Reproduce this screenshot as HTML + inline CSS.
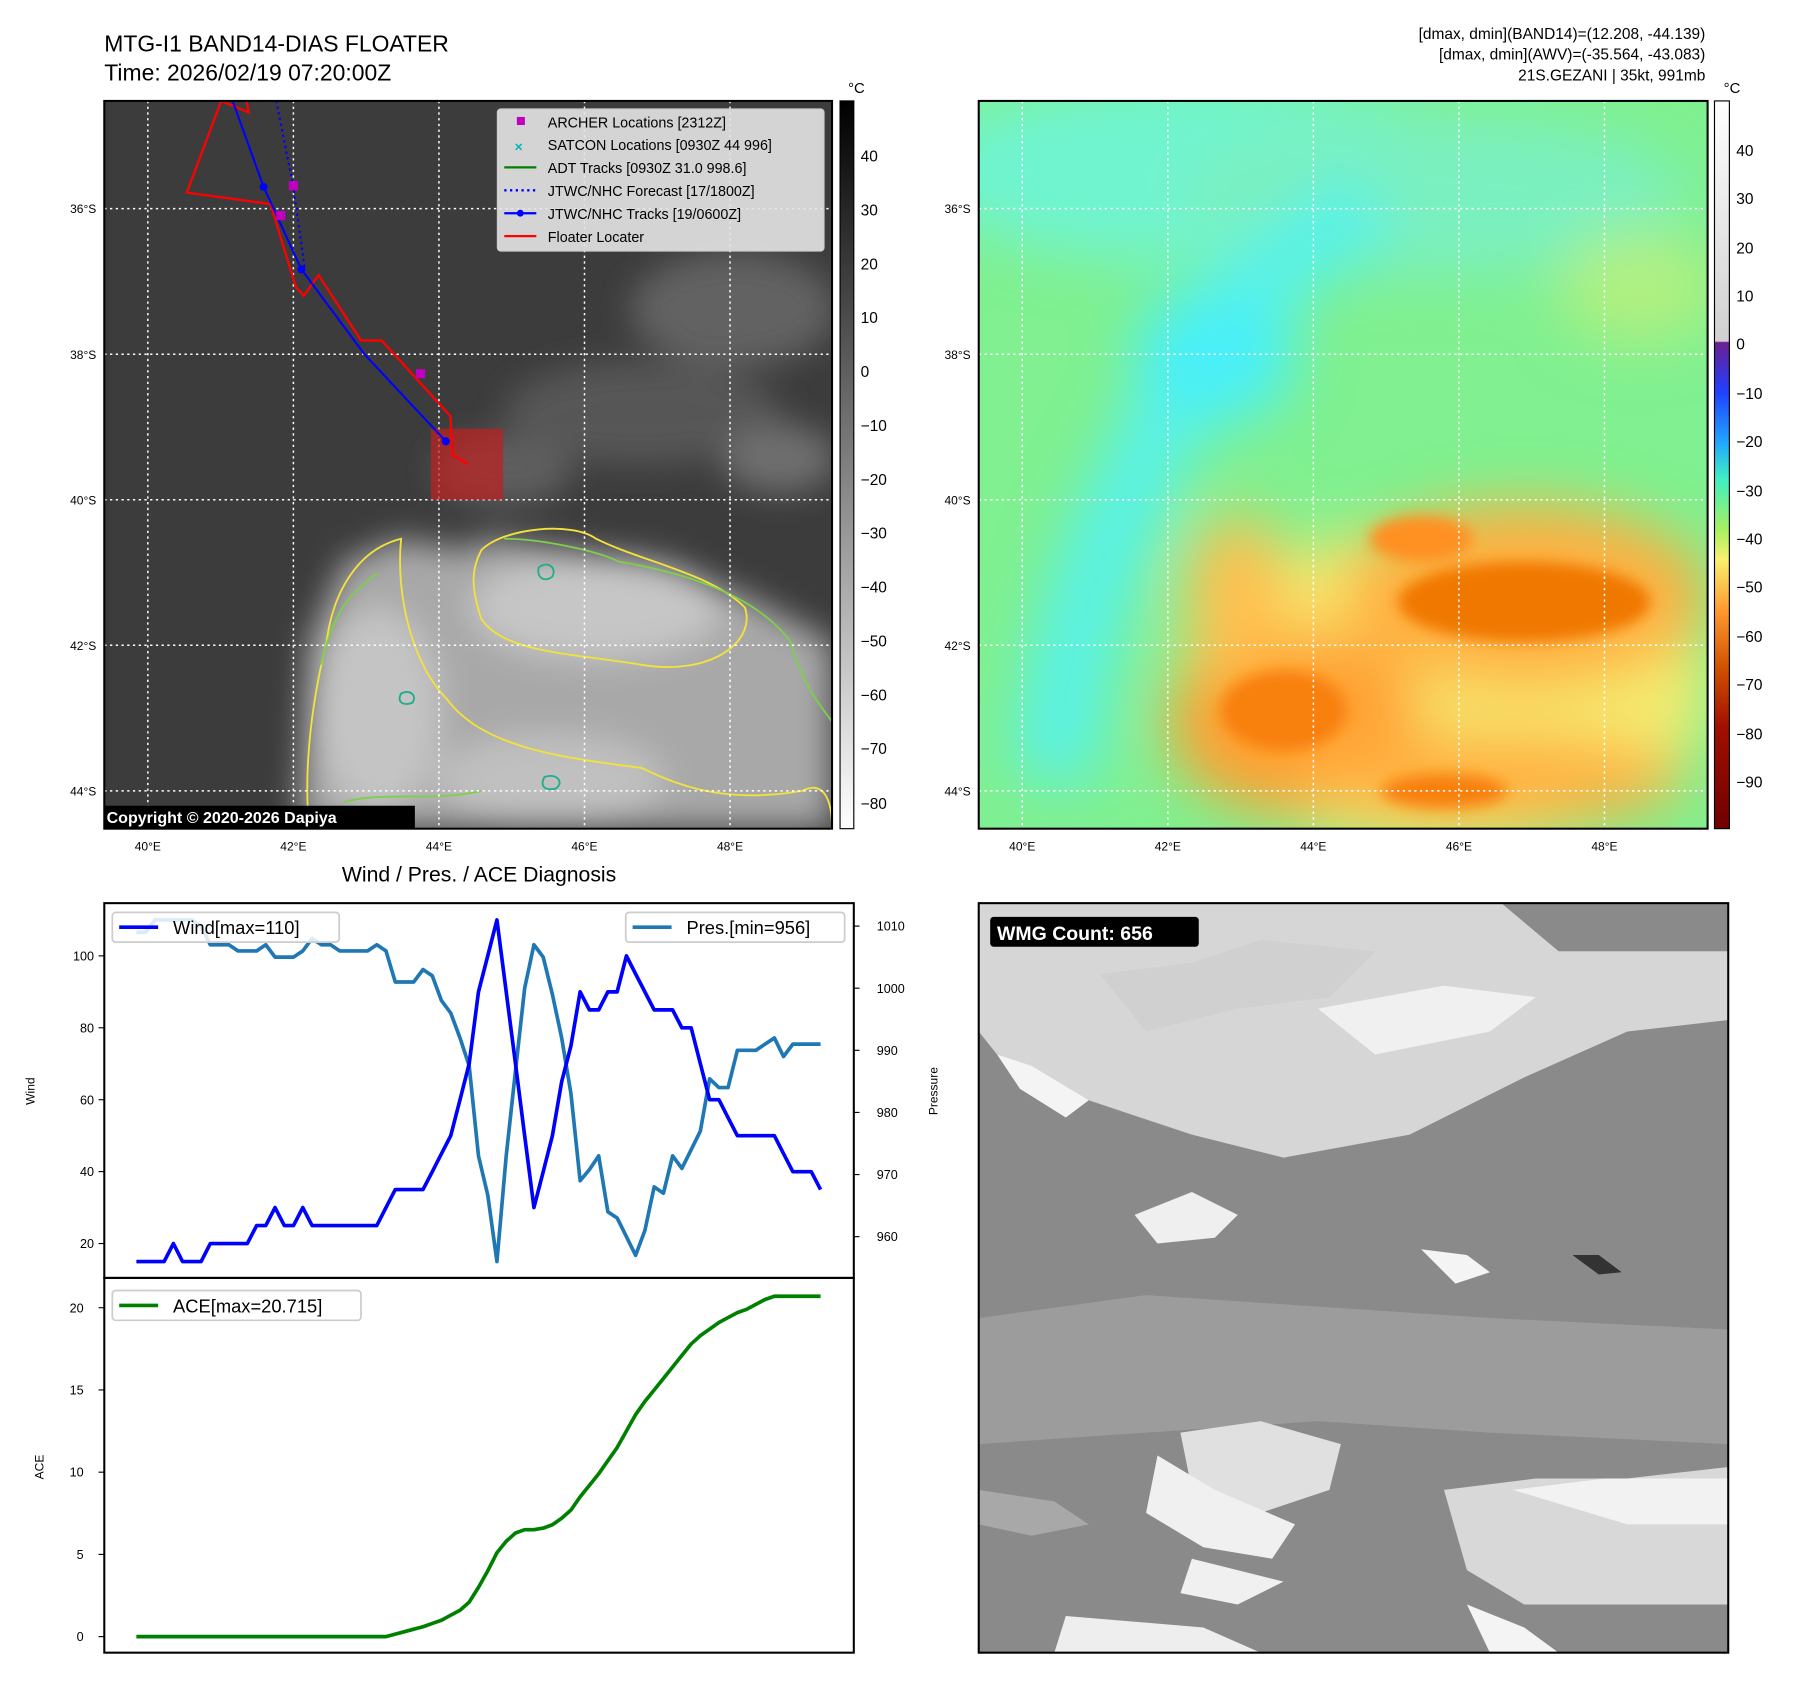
<!DOCTYPE html>
<html><head><meta charset="utf-8"><style>
html,body{margin:0;padding:0;background:#fff}
svg{display:block;font-family:"Liberation Sans","DejaVu Sans",sans-serif}
</style></head><body>
<svg id="fig" width="1797" height="1690" viewBox="0 0 1568 1474.5" xmlns="http://www.w3.org/2000/svg">
<defs>
<filter id="blur6"><feGaussianBlur stdDeviation="6"/></filter>
<filter id="blur14"><feGaussianBlur stdDeviation="14"/></filter>
<filter id="blur25"><feGaussianBlur stdDeviation="25"/></filter>
<clipPath id="c1"><rect x="91" y="88" width="635" height="635"/></clipPath>
<clipPath id="c2"><rect x="854" y="88" width="636" height="635"/></clipPath>
<clipPath id="c3"><rect x="854" y="788" width="654" height="654"/></clipPath>
<linearGradient id="cb1" x1="0" y1="0" x2="0" y2="1"><stop offset="0" stop-color="#000"/><stop offset="1" stop-color="#fff"/></linearGradient>
<linearGradient id="cb2" x1="0" y1="0" x2="0" y2="1">
<stop offset="0" stop-color="#ffffff"/><stop offset="0.33" stop-color="#d0d0d0"/>
<stop offset="0.332" stop-color="#6a2090"/><stop offset="0.4" stop-color="#2040ff"/>
<stop offset="0.47" stop-color="#20a8ff"/><stop offset="0.52" stop-color="#40f0c0"/>
<stop offset="0.59" stop-color="#a8f060"/><stop offset="0.63" stop-color="#f8f070"/>
<stop offset="0.7" stop-color="#ff9a30"/><stop offset="0.78" stop-color="#d05000"/>
<stop offset="0.86" stop-color="#a01000"/><stop offset="1" stop-color="#700000"/></linearGradient>
</defs>

<text x="91" y="45" font-size="20">MTG-I1 BAND14-DIAS FLOATER</text>
<text x="91" y="70" font-size="20">Time: 2026/02/19 07:20:00Z</text>
<g font-size="13.5" text-anchor="end">
<text x="1488" y="34">[dmax, dmin](BAND14)=(12.208, -44.139)</text>
<text x="1488" y="52">[dmax, dmin](AWV)=(-35.564, -43.083)</text>
<text x="1488" y="70">21S.GEZANI | 35kt, 991mb</text>
</g>

<!-- MAP 1 -->
<g clip-path="url(#c1)">
<rect x="91" y="88" width="635" height="635" fill="#3c3c3c"/>
<g filter="url(#blur14)">
<ellipse cx="640" cy="270" rx="90" ry="50" fill="#626262"/>
<ellipse cx="560" cy="360" rx="120" ry="45" fill="#565656"/>
<ellipse cx="680" cy="400" rx="50" ry="30" fill="#6e6e6e"/>
<ellipse cx="440" cy="410" rx="60" ry="30" fill="#5e5e5e"/>
<polygon points="270,560 300,490 350,470 400,480 430,470 560,490 650,520 726,560 726,723 260,723" fill="#a8a8a8"/>
<ellipse cx="330" cy="620" rx="55" ry="90" fill="#c4c4c4"/>
<ellipse cx="520" cy="530" rx="110" ry="45" fill="#c6c6c6"/>
<ellipse cx="480" cy="680" rx="100" ry="40" fill="#c0c0c0"/>
</g>
<g fill="none" stroke-width="1.6">
<path d="M285,560 C290,520 310,480 350,470 C345,520 360,580 390,610 C420,650 480,660 560,670 C600,690 640,700 700,690 C720,680 726,700 726,723 L270,723 C265,680 270,620 285,560Z" stroke="#f2e23a"/>
<path d="M420,480 C440,460 500,455 520,470 C560,490 620,500 650,530 C660,560 620,590 560,580 C500,570 440,570 420,540 C410,510 412,495 420,480Z" stroke="#f2e23a"/>
<path d="M440,470 C470,470 520,480 540,490 C600,500 660,520 690,560 C700,600 720,620 726,630" stroke="#7ecf4a"/>
<path d="M280,580 C290,540 300,520 330,500 M300,700 C330,690 380,700 420,690" stroke="#7ecf4a"/>
<path d="M470,495 c8,-6 16,0 12,8 c-6,5 -14,2 -12,-8z M350,605 c8,-4 14,2 10,8 c-8,3 -14,0 -10,-8z M475,678 c10,-4 18,4 10,10 c-10,2 -14,-2 -10,-10z" stroke="#1fae8a"/>
</g>
</g>
<g stroke="#fff" stroke-width="1.3" stroke-dasharray="2,3" clip-path="url(#c1)">
<line x1="129" y1="88" x2="129" y2="723"/><line x1="256" y1="88" x2="256" y2="723"/><line x1="383" y1="88" x2="383" y2="723"/><line x1="510" y1="88" x2="510" y2="723"/><line x1="637" y1="88" x2="637" y2="723"/>
<line x1="91" y1="182" x2="726" y2="182"/><line x1="91" y1="309" x2="726" y2="309"/><line x1="91" y1="436" x2="726" y2="436"/><line x1="91" y1="563" x2="726" y2="563"/><line x1="91" y1="690" x2="726" y2="690"/>
</g>
<g clip-path="url(#c1)">
<rect x="376" y="374" width="63" height="62" fill="#c02020" opacity="0.7"/>
<polyline points="215,88 217,98 193,88 163,168 236,178 258,250 265,258 278,240 315,297 333,297 393,363 395,397 408,405" fill="none" stroke="#f00" stroke-width="2"/>
<polyline points="241,88 256,163 266,235" fill="none" stroke="#00f" stroke-width="1.8" stroke-dasharray="2,3"/>
<polyline points="203,88 230,163 263,235 318,309 389,385" fill="none" stroke="#00f" stroke-width="1.8"/>
<g fill="#00f"><circle cx="230" cy="163" r="3.5"/><circle cx="263" cy="235" r="3.5"/><circle cx="389" cy="385" r="3.5"/></g>
<g fill="#c000c0"><rect x="252" y="158" width="8" height="8"/><rect x="241" y="184" width="8" height="8"/><rect x="363" y="322" width="8" height="8"/></g>
<rect x="89" y="703" width="273" height="20" fill="#000"/>
<text x="93" y="718" fill="#fff" font-size="14" font-weight="bold">Copyright © 2020-2026 Dapiya</text>
</g>
<rect x="91" y="88" width="635" height="635" fill="none" stroke="#000" stroke-width="1.8"/>
<g font-size="12.5">
<rect x="434" y="95" width="285" height="124" fill="#e4e4e4" fill-opacity="0.9" stroke="#ccc" rx="3"/>
<rect x="451" y="102" width="7" height="7" fill="#c000c0"/><text x="478" y="111">ARCHER Locations [2312Z]</text>
<text x="449" y="132" fill="#00b8b8" font-size="12" font-weight="bold">×</text><text x="478" y="131">SATCON Locations [0930Z 44 996]</text>
<line x1="440" y1="146" x2="468" y2="146" stroke="#008000" stroke-width="2"/><text x="478" y="151">ADT Tracks [0930Z 31.0 998.6]</text>
<line x1="440" y1="166" x2="468" y2="166" stroke="#00f" stroke-width="2" stroke-dasharray="2,3"/><text x="478" y="171">JTWC/NHC Forecast [17/1800Z]</text>
<line x1="440" y1="186" x2="468" y2="186" stroke="#00f" stroke-width="2"/><circle cx="454" cy="186" r="3" fill="#00f"/><text x="478" y="191">JTWC/NHC Tracks [19/0600Z]</text>
<line x1="440" y1="206" x2="468" y2="206" stroke="#f00" stroke-width="2"/><text x="478" y="211">Floater Locater</text>
</g>
<g font-size="10.5" text-anchor="end">
<text x="84" y="186">36°S</text><text x="84" y="313">38°S</text><text x="84" y="440">40°S</text><text x="84" y="567">42°S</text><text x="84" y="694">44°S</text></g>
<g font-size="10.5" text-anchor="middle">
<text x="129" y="742">40°E</text><text x="256" y="742">42°E</text><text x="383" y="742">44°E</text><text x="510" y="742">46°E</text><text x="637" y="742">48°E</text></g>
<g>
<rect x="733" y="88" width="12" height="635" fill="url(#cb1)" stroke="#000" stroke-width="1"/>
<text x="740" y="81" font-size="13">°C</text>
<g font-size="13.5" text-anchor="start">
<text x="751" y="141">40</text><text x="751" y="188">30</text><text x="751" y="235">20</text><text x="751" y="282">10</text><text x="751" y="329">0</text><text x="751" y="376">−10</text><text x="751" y="423">−20</text><text x="751" y="470">−30</text><text x="751" y="517">−40</text><text x="751" y="564">−50</text><text x="751" y="611">−60</text><text x="751" y="658">−70</text><text x="751" y="706">−80</text></g></g>

<!-- MAP 2 -->
<g clip-path="url(#c2)">
<rect x="854" y="88" width="636" height="635" fill="#80f090"/>
<g filter="url(#blur25)">
<ellipse cx="1050" cy="150" rx="250" ry="80" fill="#70f4d0"/>
<ellipse cx="1250" cy="170" rx="220" ry="70" fill="#7af0c0"/>
<path d="M1200,180 C1100,230 1050,300 1010,380 C970,460 930,550 920,680" stroke="#58f2e8" stroke-width="70" fill="none"/>
<ellipse cx="1060" cy="310" rx="70" ry="60" fill="#48f0f8"/>
<ellipse cx="1430" cy="250" rx="70" ry="50" fill="#b0f080"/>
<ellipse cx="1260" cy="600" rx="230" ry="140" fill="#f4ec70"/>
<ellipse cx="1330" cy="520" rx="160" ry="80" fill="#ffb040"/>
<ellipse cx="1130" cy="630" rx="110" ry="80" fill="#ffa030"/>
<ellipse cx="1300" cy="680" rx="170" ry="40" fill="#ffb040"/>
<ellipse cx="1080" cy="520" rx="45" ry="70" fill="#ffc050"/>
</g>
<g filter="url(#blur6)">
<ellipse cx="1330" cy="525" rx="110" ry="35" fill="#f07800"/>
<ellipse cx="1240" cy="470" rx="45" ry="20" fill="#ff9020"/>
<ellipse cx="1120" cy="620" rx="55" ry="35" fill="#f88010"/>
<ellipse cx="1260" cy="690" rx="55" ry="15" fill="#f88010"/>
</g>
</g>
<g stroke="#fff" stroke-width="1.3" stroke-dasharray="2,3" clip-path="url(#c2)">
<line x1="892" y1="88" x2="892" y2="723"/><line x1="1019" y1="88" x2="1019" y2="723"/><line x1="1146" y1="88" x2="1146" y2="723"/><line x1="1273" y1="88" x2="1273" y2="723"/><line x1="1400" y1="88" x2="1400" y2="723"/>
<line x1="854" y1="182" x2="1490" y2="182"/><line x1="854" y1="309" x2="1490" y2="309"/><line x1="854" y1="436" x2="1490" y2="436"/><line x1="854" y1="563" x2="1490" y2="563"/><line x1="854" y1="690" x2="1490" y2="690"/>
</g>
<rect x="854" y="88" width="636" height="635" fill="none" stroke="#000" stroke-width="1.8"/>
<g font-size="10.5" text-anchor="end">
<text x="847" y="186">36°S</text><text x="847" y="313">38°S</text><text x="847" y="440">40°S</text><text x="847" y="567">42°S</text><text x="847" y="694">44°S</text></g>
<g font-size="10.5" text-anchor="middle">
<text x="892" y="742">40°E</text><text x="1019" y="742">42°E</text><text x="1146" y="742">44°E</text><text x="1273" y="742">46°E</text><text x="1400" y="742">48°E</text></g>
<g>
<rect x="1496" y="88" width="13" height="635" fill="url(#cb2)" stroke="#000" stroke-width="1"/>
<text x="1504" y="81" font-size="13">°C</text>
<g font-size="13.5">
<text x="1515" y="136">40</text><text x="1515" y="178">30</text><text x="1515" y="221">20</text><text x="1515" y="263">10</text><text x="1515" y="305">0</text><text x="1515" y="348">−10</text><text x="1515" y="390">−20</text><text x="1515" y="433">−30</text><text x="1515" y="475">−40</text><text x="1515" y="517">−50</text><text x="1515" y="560">−60</text><text x="1515" y="602">−70</text><text x="1515" y="645">−80</text><text x="1515" y="687">−90</text></g></g>

<!-- WMG panel -->
<g clip-path="url(#c3)">
<rect x="854" y="788" width="654" height="654" fill="#8a8a8a"/>
<polygon points="854,788 1310,788 1360,830 1508,830 1508,890 1420,900 1330,940 1230,990 1120,1010 1040,990 950,960 870,920 854,900" fill="#d6d6d6"/>
<polygon points="960,850 1040,840 1100,820 1200,830 1160,870 1080,880 1000,900" fill="#d0d0d0"/>
<polygon points="1150,880 1260,860 1340,870 1300,900 1200,920" fill="#f0f0f0"/>
<polygon points="870,920 900,930 950,960 930,975 890,950" fill="#f4f4f4"/>
<polygon points="990,1060 1040,1040 1080,1060 1060,1080 1010,1085" fill="#efefef"/>
<polygon points="1240,1090 1280,1095 1300,1110 1270,1120" fill="#f4f4f4"/>
<polygon points="1372,1095 1395,1095 1415,1110 1395,1112" fill="#333"/>
<polygon points="854,1150 1000,1130 1150,1140 1300,1150 1508,1160 1508,1260 1300,1250 1150,1240 1000,1250 854,1260" fill="#9c9c9c"/>
<polygon points="1030,1250 1100,1240 1170,1260 1160,1300 1100,1320 1040,1300" fill="#e0e0e0"/>
<polygon points="1010,1270 1060,1300 1130,1330 1110,1360 1050,1350 1000,1320" fill="#f0f0f0"/>
<polygon points="1260,1300 1340,1290 1420,1290 1508,1280 1508,1400 1420,1400 1330,1400 1280,1370" fill="#d8d8d8"/>
<polygon points="1320,1300 1400,1290 1508,1290 1508,1330 1420,1330" fill="#f2f2f2"/>
<polygon points="854,1300 920,1310 950,1330 900,1340 854,1330" fill="#a8a8a8"/>
<polygon points="1040,1360 1120,1380 1080,1400 1030,1390" fill="#f0f0f0"/>
<polygon points="930,1410 1050,1420 1100,1442 920,1442" fill="#eeeeee"/>
<polygon points="1280,1400 1330,1420 1360,1442 1300,1442" fill="#f4f4f4"/>
</g>
<rect x="854" y="788" width="654" height="654" fill="none" stroke="#000" stroke-width="1.8"/>
<rect x="864" y="800" width="182" height="26" rx="3" fill="#000"/>
<text x="870" y="820" fill="#fff" font-size="17" font-weight="bold">WMG Count: 656</text>

<!-- Charts -->
<text x="418" y="769" font-size="18.5" text-anchor="middle">Wind / Pres. / ACE Diagnosis</text>
<g id="charts"></g>
</svg>
<script>
const wind = [15,15,15,15,20,15,15,15,20,20,20,20,20,25,25,30,25,25,30,25,25,25,25,25,25,25,25,30,35,35,35,35,40,45,50,60,70,90,100,110,90,70,50,30,40,50,65,75,90,85,85,90,90,100,95,90,85,85,85,80,80,70,60,60,55,50,50,50,50,50,45,40,40,40,35];
const pressure = [1009,1009,1011,1011,1011,1011,1011,1010,1007,1007,1007,1006,1006,1006,1007,1005,1005,1005,1006,1008,1007,1007,1006,1006,1006,1006,1007,1006,1001,1001,1001,1003,1002,998,996,992,987.5,973,966.7,956,973,986.7,1000,1007,1005,999,992,983,969,970.8,973,964,963,960,957,961,968,967,973,971,974,977,985.4,984,984,990,990,990,991,992,989,991,991,991,991];
const ace = [0,0,0,0,0,0,0,0,0,0,0,0,0,0,0,0,0,0,0,0,0,0,0,0,0,0,0,0,0.15,0.3,0.45,0.6,0.8,1.0,1.3,1.6,2.1,3.0,4.0,5.1,5.8,6.3,6.5,6.5,6.6,6.8,7.2,7.7,8.5,9.2,9.9,10.7,11.5,12.5,13.5,14.3,15.0,15.7,16.4,17.1,17.8,18.3,18.7,19.1,19.4,19.7,19.9,20.2,20.5,20.7,20.7,20.7,20.7,20.7,20.7];
const windTicks = [20,40,60,80,100];
const presTicks = [960,970,980,990,1000,1010];
const aceTicks = [0,5,10,15,20];

const NS='http://www.w3.org/2000/svg';
const g=document.getElementById('charts');
function mk(tag,attrs,parent){const e=document.createElementNS(NS,tag);for(const k in attrs)e.setAttribute(k,attrs[k]);(parent||g).appendChild(e);return e;}
const xS=i=>119+i*(716-119)/(wind.length-1);
const yW=v=>1085-(v-20)*3.1375;
const yP=p=>808+(1010-p)*5.42;
const yA=v=>1428-v*14.35;
function line(arr,ys,color,name){
  const p=mk('polyline',{points:arr.map((v,i)=>xS(i).toFixed(1)+','+ys(v).toFixed(1)).join(' '),fill:'none',stroke:color,'stroke-width':3.2,'stroke-linejoin':'round'});
  
  
}
const f1=mk('rect',{x:91,y:788,width:654,height:327,fill:'none',stroke:'#000','stroke-width':1.8});


const f2=mk('rect',{x:91,y:1115,width:654,height:327,fill:'none',stroke:'#000','stroke-width':1.8});


windTicks.forEach(v=>{
  const y=yW(v);mk('line',{x1:86,y1:y,x2:91,y2:y,stroke:'#000'});
  const t=mk('text',{x:82,y:y+4,'font-size':11,'text-anchor':'end'});t.textContent=v;
  
  
});
presTicks.forEach(v=>{
  const y=yP(v);mk('line',{x1:745,y1:y,x2:750,y2:y,stroke:'#000'});
  const t=mk('text',{x:765,y:y+4,'font-size':11});t.textContent=v;
  
  
});
aceTicks.forEach(v=>{
  const y=yA(v);mk('line',{x1:86,y1:y,x2:91,y2:y,stroke:'#000'});
  const t=mk('text',{x:73,y:y+4,'font-size':11,'text-anchor':'end'});t.textContent=v;
  
  
});
line(pressure,yP,'#1f77b4','pressure-line');
line(wind,yW,'#0000ff','wind-line');
line(ace,yA,'#008000','ace-line');
function ylab(x,y,s,n){const t=mk('text',{x:x,y:y,'font-size':10.5,'text-anchor':'middle',transform:`rotate(-90 ${x} ${y})`});t.textContent=s;
  
  }
ylab(30,952,'Wind','wind-axis-title');ylab(818,952,'Pressure','pressure-axis-title');ylab(38,1280,'ACE','ace-axis-title');
function legend(x,y,w,color,label,n){
  const r=mk('rect',{x:x,y:y,width:w,height:26,fill:'#fff','fill-opacity':0.85,stroke:'#ccc','stroke-width':1.5,rx:3});
  
  
  mk('line',{x1:x+6,y1:y+13,x2:x+40,y2:y+13,stroke:color,'stroke-width':3.2});
  const t=mk('text',{x:x+53,y:y+19,'font-size':16});t.textContent=label;
}
legend(98,796,198,'#0000ff','Wind[max=110]','wind-legend');
legend(546,796,191,'#1f77b4','Pres.[min=956]','pressure-legend');
legend(98,1126,217,'#008000','ACE[max=20.715]','ace-legend');
</script>
</body></html>
